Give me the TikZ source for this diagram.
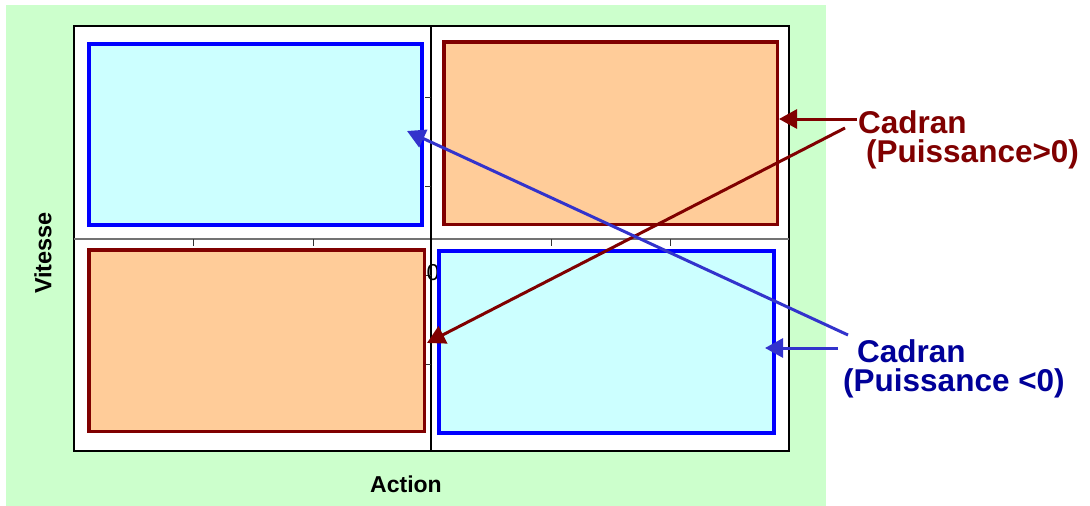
\documentclass[tikz,border=0pt]{standalone}
\usepackage{fontspec}
\setmainfont{Liberation Sans}
\usetikzlibrary{arrows.meta}
\definecolor{bggreen}{HTML}{CCFFCC}
\definecolor{qcyan}{HTML}{CCFFFF}
\definecolor{qorange}{HTML}{FFCC99}
\definecolor{dred}{HTML}{800000}
\definecolor{qblue}{HTML}{0000FF}
\definecolor{arblue}{HTML}{3333CC}
\definecolor{dblue}{HTML}{000099}
\tikzset{
  cyanbox/.style={draw=qblue, fill=qcyan, line width=4pt, inner sep=0pt},
  orangebox/.style={draw=dred, fill=qorange, line width=3.5pt, inner sep=0pt},
  redarrow/.style={draw=dred, line width=3pt, -{Triangle[length=18pt,width=19pt]}},
  bluearrow/.style={draw=arblue, line width=3pt, -{Triangle[length=18pt,width=19pt]}},
  tickline/.style={draw=black!80, line width=1pt},
  lbl/.style={font=\bfseries, inner sep=0pt}
}
\begin{document}
\begin{tikzpicture}[x=1pt,y=-1pt]
\useasboundingbox (0,0) rectangle (1090,506);
\fill[white] (0,0) rectangle (1090,506);
\fill[bggreen] (6,5) rectangle (826,506);
% plot area
\draw[fill=white, line width=1.5pt] (74,26) rectangle (789,451);
\draw[black!55, line width=2.2pt] (74,239) -- (789,239);
\draw[black, line width=1.3pt] (431,26) -- (431,451);
\foreach \xx in {193,313,551,670} \draw[tickline] (\xx,239) -- (\xx,246);
\foreach \yy in {97,186,275,364} \draw[tickline] (425,\yy) -- (431,\yy);
\node[inner sep=0pt, font=\fontsize{23}{23}\selectfont] (zero) at (433,273) {0};
% quadrants
\node[cyanbox, minimum width=333pt, minimum height=181pt] (tl) at (255.5,134.5) {};
\node[orangebox, minimum width=333.5pt, minimum height=182.5pt] (tr) at (610.5,133) {};
\node[orangebox, minimum width=335.5pt, minimum height=181.5pt] (bl) at (256.5,340.5) {};
\node[cyanbox, minimum width=335pt, minimum height=182pt] (br) at (606.5,342) {};
% axis titles
\node[lbl, font=\bfseries\fontsize{23}{23}\selectfont] (action) at (406,484) {Action};
\node[lbl, font=\bfseries\fontsize{23.5}{23.5}\selectfont, rotate=90] (vitesse) at (43,253) {Vitesse};
% labels
\node[lbl, text=dred, anchor=base west, font=\bfseries\fontsize{31.5}{31.5}\selectfont] (cpos) at (858,133) {Cadran};
\node[lbl, text=dred, anchor=base west, font=\bfseries\fontsize{31.5}{31.5}\selectfont] (ppos) at (866,162) {(Puissance>0)};
\node[lbl, text=dblue, anchor=base west, font=\bfseries\fontsize{31.5}{31.5}\selectfont] (cneg) at (857,362) {Cadran};
\node[lbl, text=dblue, anchor=base west, font=\bfseries\fontsize{31.5}{31.5}\selectfont] (pneg) at (843,391) {(Puissance <0)};
% arrow coordinates
\coordinate (r1s) at (857,119);
\coordinate (r1e) at (779,119);
\coordinate (r2s) at (845,128);
\coordinate (r2e) at (427,343);
\coordinate (b1s) at (848,335);
\coordinate (b1e) at (407,131);
\coordinate (b2s) at (838,348);
\coordinate (b2e) at (765,348);
\draw[redarrow] (r1s) -- (r1e);
\draw[redarrow] (r2s) -- (r2e);
\draw[bluearrow] (b1s) -- (b1e);
\draw[bluearrow] (b2s) -- (b2e);
\end{tikzpicture}
\end{document}
